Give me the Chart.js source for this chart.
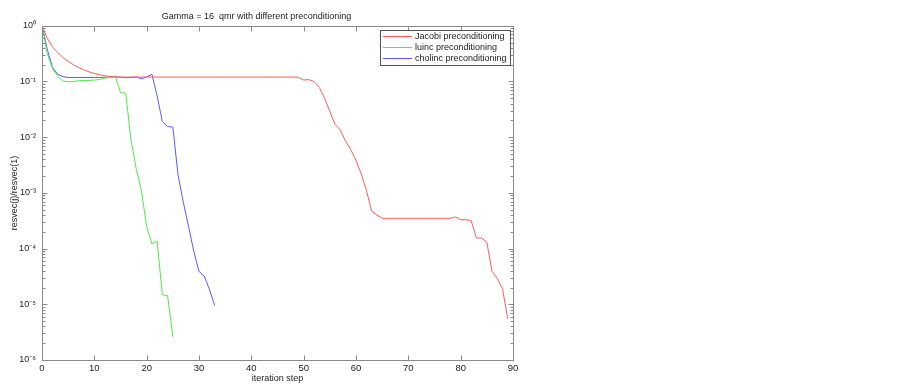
<!DOCTYPE html>
<html lang="en">
<head>
    <meta charset="UTF-8">
    <title>Gamma = 16 qmr with different preconditioning</title>
    <script src="https://cdn.jsdelivr.net/npm/chart.js"></script>
    <style>
        body {
            margin: 0;
            padding: 0;
            background-color: #ffffff;
        }
        canvas {
            display: block;
        }
    </style>
</head>
<body>
    <canvas id="qmr-chart" width="902" height="386"></canvas>
    <script>
        // residual history, one value per iteration step (starting at step 0)
        const jacobi = [
            1, 0.6, 0.42, 0.33, 0.27, 0.23, 0.2, 0.178, 0.162, 0.149,
            0.139, 0.132, 0.127, 0.123, 0.121, 0.12, 0.12, 0.12, 0.12, 0.12,
            0.12, 0.12, 0.12, 0.12, 0.12, 0.12, 0.12, 0.12, 0.12, 0.12,
            0.12, 0.12, 0.12, 0.12, 0.12, 0.12, 0.12, 0.12, 0.12, 0.12,
            0.12, 0.12, 0.12, 0.12, 0.12, 0.12, 0.12, 0.12, 0.12, 0.119,
            0.106, 0.108, 0.1, 0.078, 0.05, 0.029, 0.017, 0.0135, 0.0085, 0.006,
            0.0038, 0.0022, 0.0011, 0.00047, 0.0004, 0.00035, 0.00035, 0.00035, 0.00035, 0.00035,
            0.00035, 0.00035, 0.00035, 0.00035, 0.00035, 0.00035, 0.00035, 0.00035, 0.00035, 0.00037,
            0.00033, 0.00033, 0.00032, 0.000155, 0.000155, 0.00013, 0.000039, 0.000029, 0.000019, 0.0000055
        ];
        const luinc = [
            1, 0.32, 0.17, 0.125, 0.102, 0.099, 0.1, 0.103, 0.104, 0.105,
            0.106, 0.109, 0.114, 0.121, 0.125, 0.063, 0.062, 0.009, 0.0027, 0.0011,
            0.00025, 0.000122, 0.000135, 0.0000148, 0.0000143, 0.0000026
        ];
        const cholinc = [
            1, 0.38, 0.18, 0.135, 0.122, 0.118, 0.118, 0.118, 0.118, 0.118,
            0.118, 0.118, 0.119, 0.12, 0.121, 0.119, 0.117, 0.118, 0.121, 0.112,
            0.12, 0.135, 0.055, 0.019, 0.0155, 0.0152, 0.0021, 0.00068, 0.00025, 0.00009,
            0.000039, 0.000032, 0.0000185, 0.0000095
        ];

        const seriesNames = ["Jacobi preconditioning", "luinc preconditioning", "cholinc preconditioning"];
        const xTicks = [0, 10, 20, 30, 40, 50, 60, 70, 80, 90];
        const yTickValues = [1e-6, 1e-5, 1e-4, 1e-3, 1e-2, 1e-1, 1];
        const yTickLabels = ["10\u207B\u2076", "10\u207B\u2075", "10\u207B\u2074", "10\u207B\u00B3", "10\u207B\u00B2", "10\u207B\u00B9", "10\u2070"];

        const FONT = "'Liberation Sans', Arial, sans-serif";
        const TEXT = "#222222";
        const AXIS = "#8a8a8a";

        // step number = position in the array
        function toPoints(values) {
            return values.map((v, i) => ({ x: i, y: v }));
        }

        // MATLAB-like box with inward ticks, plus the boxed legend
        const matlabAxes = {
            id: "matlabAxes",
            afterDatasetsDraw(chart) {
                const ctx = chart.ctx;
                const a = chart.chartArea;
                const xs = chart.scales.x;
                const ys = chart.scales.y;
                const L = Math.round(a.left) + 0.5, R = Math.round(a.right) + 0.5;
                const T = Math.round(a.top) + 0.5, B = Math.round(a.bottom) + 0.5;

                ctx.save();
                ctx.strokeStyle = AXIS;
                ctx.lineWidth = 1;
                ctx.strokeRect(L, T, R - L, B - T);

                ctx.beginPath();
                xTicks.forEach(t => {
                    const px = Math.round(xs.getPixelForValue(t)) + 0.5;
                    ctx.moveTo(px, B); ctx.lineTo(px, B - 5);
                    ctx.moveTo(px, T); ctx.lineTo(px, T + 5);
                });
                yTickValues.forEach((d, i) => {
                    const py = Math.round(ys.getPixelForValue(d)) + 0.5;
                    ctx.moveTo(L, py); ctx.lineTo(L + 5, py);
                    ctx.moveTo(R, py); ctx.lineTo(R - 5, py);
                    if (i === yTickValues.length - 1) return;
                    for (let k = 2; k <= 9; k++) {
                        const pm = Math.round(ys.getPixelForValue(d * k)) + 0.5;
                        ctx.moveTo(L, pm); ctx.lineTo(L + 3, pm);
                        ctx.moveTo(R, pm); ctx.lineTo(R - 3, pm);
                    }
                });
                ctx.stroke();

                // legend
                const lx = 380, ly = 30, lw = 130, lh = 35;
                ctx.fillStyle = "#ffffff";
                ctx.fillRect(lx + 0.5, ly + 0.5, lw, lh);
                ctx.strokeStyle = "#555555";
                ctx.strokeRect(lx + 0.5, ly + 0.5, lw, lh);
                ctx.font = "9px " + FONT;
                ctx.textBaseline = "middle";
                ctx.textAlign = "left";
                chart.data.datasets.forEach((ds, i) => {
                    const y = ly + 6 + i * 11 + 0.5;
                    ctx.strokeStyle = ds.borderColor;
                    ctx.beginPath();
                    ctx.moveTo(lx + 3, y);
                    ctx.lineTo(lx + 32, y);
                    ctx.stroke();
                    ctx.fillStyle = TEXT;
                    ctx.fillText(ds.label, lx + 35, y);
                });
                ctx.restore();
            }
        };

        new Chart(document.getElementById("qmr-chart").getContext("2d"), {
            type: "line",
            data: {
                datasets: [
                    { label: seriesNames[0], data: toPoints(jacobi), borderColor: "#ff5a5a" },
                    { label: seriesNames[1], data: toPoints(luinc), borderColor: "#4fe84f" },
                    { label: seriesNames[2], data: toPoints(cholinc), borderColor: "#5a5aff" }
                ].map(d => Object.assign(d, { borderWidth: 1, pointRadius: 0, tension: 0, fill: false }))
            },
            options: {
                responsive: false,
                animation: false,
                layout: { padding: { left: 0, right: 389, top: 0, bottom: 0 } },
                plugins: {
                    legend: { display: false },
                    tooltip: { enabled: false },
                    title: {
                        display: true,
                        text: "Gamma = 16  qmr with different preconditioning",
                        color: TEXT,
                        font: { family: FONT, size: 9, weight: "normal", lineHeight: 1.2 },
                        padding: { top: 11, bottom: 4 }
                    }
                },
                scales: {
                    x: {
                        type: "linear",
                        min: 0,
                        max: 90,
                        afterBuildTicks: s => { s.ticks = xTicks.map(v => ({ value: v })); },
                        afterFit: s => { s.height = 26; },
                        ticks: { padding: 3, color: TEXT, maxRotation: 0, font: { family: FONT, size: 9.5 } },
                        grid: { display: false, drawTicks: false },
                        border: { display: false },
                        title: {
                            display: true,
                            text: "iteration step",
                            color: TEXT,
                            font: { family: FONT, size: 9 },
                            padding: { top: 0, bottom: 2 }
                        }
                    },
                    y: {
                        type: "logarithmic",
                        min: 1e-6,
                        max: 1,
                        afterBuildTicks: s => { s.ticks = yTickValues.map(v => ({ value: v })); },
                        afterFit: s => { s.width = 42; },
                        ticks: {
                            padding: 6,
                            color: TEXT,
                            font: { family: FONT, size: 9 },
                            callback: (v, i) => yTickLabels[i]
                        },
                        grid: { display: false, drawTicks: false },
                        border: { display: false },
                        title: {
                            display: true,
                            text: "resvec(j)/resvec(1)",
                            color: TEXT,
                            font: { family: FONT, size: 9 },
                            padding: { top: 9 }
                        }
                    }
                }
            },
            plugins: [matlabAxes]
        });
    </script>
</body>
</html>
